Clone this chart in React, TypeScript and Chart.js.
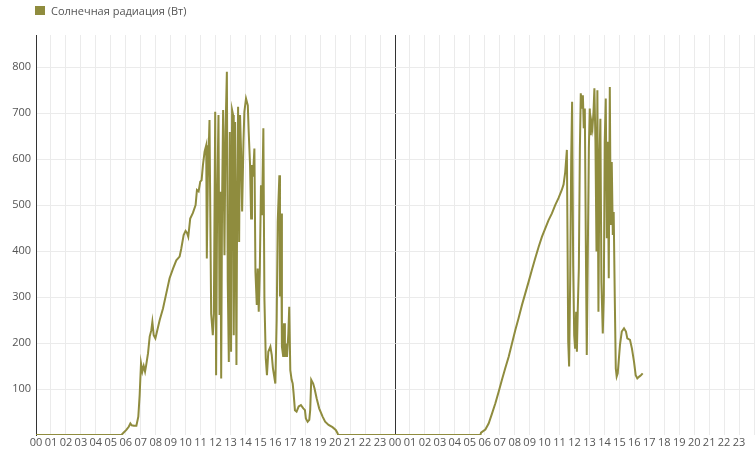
import React, { useEffect, useRef } from "react";
import { Chart, registerables } from "chart.js";

Chart.register(...registerables);

const SERIES_LABEL = "Солнечная радиация (Вт)";
const LINE_COLOR = "#8f8c3e";

// Day 1: hour of day -> watts
const day1Hours = [
  0, 5.71, 5.85, 6.04, 6.2, 6.31, 6.4, 6.55, 6.71, 6.84,
  6.93, 7.02, 7.11, 7.2, 7.29, 7.36, 7.49, 7.6, 7.71, 7.78,
  7.87, 7.98, 8.09, 8.27, 8.49, 8.71, 8.93, 9.16, 9.38, 9.6,
  9.71, 9.87, 10.0, 10.09, 10.18, 10.31, 10.49, 10.67, 10.76, 10.87,
  10.98, 11.07, 11.16, 11.27, 11.38, 11.42, 11.49, 11.6, 11.67, 11.71,
  11.82, 11.89, 11.98, 12.04, 12.11, 12.2, 12.27, 12.33, 12.38, 12.44,
  12.51, 12.6, 12.67, 12.76, 12.82, 12.89, 12.96, 13.04, 13.11, 13.18,
  13.22, 13.31, 13.4, 13.44, 13.51, 13.58, 13.64, 13.71, 13.78, 13.87,
  13.93, 14.04, 14.16, 14.22, 14.31, 14.38, 14.44, 14.51, 14.6, 14.67,
  14.76, 14.82, 14.89, 14.96, 15.04, 15.11, 15.2, 15.27, 15.36, 15.44,
  15.53, 15.67, 15.76, 15.84, 15.96, 16.0, 16.09, 16.16, 16.27, 16.31,
  16.38, 16.44, 16.53, 16.58, 16.64, 16.71, 16.78, 16.87, 16.93, 17.0,
  17.09, 17.16, 17.22, 17.31, 17.42, 17.56, 17.71, 17.87, 17.98, 18.04,
  18.16, 18.27, 18.33, 18.4, 18.53, 18.62, 18.76, 18.93, 19.16, 19.33,
  19.56, 19.82, 20.04, 20.16, 20.2, 24,
];
const day1Values = [
  0, 0, 5, 11, 18, 25, 21, 20, 20, 40,
  87, 156, 138, 150, 138, 151, 178, 214, 228, 246,
  217, 210, 225, 250, 275, 308, 341, 362, 380, 388,
  405, 435, 444, 440, 431, 471, 483, 500, 533, 530,
  551, 554, 587, 616, 630, 384, 558, 685, 409, 264,
  217, 264, 703, 130, 500, 696, 261, 529, 123, 507,
  707, 391, 659, 790, 333, 159, 659, 181, 707, 696,
  217, 681, 152, 449, 714, 420, 696, 616, 486, 638,
  703, 732, 717, 659, 587, 471, 587, 562, 623, 355,
  283, 362, 268, 355, 543, 478, 667, 297, 167, 130,
  181, 192, 174, 145, 120, 112, 250, 464, 565, 301,
  482, 192, 170, 243, 170, 199, 170, 221, 279, 141,
  120, 112, 91, 54, 51, 62, 65, 58, 54, 36,
  29, 33, 54, 120, 112, 101, 80, 58, 40, 29,
  22, 17, 11, 4, 0, 0,
];

// Day 2: hour of day -> watts
const day2Hours = [
  0, 5.71, 5.75, 6.04, 6.26, 6.49, 6.71, 6.93, 7.15, 7.37,
  7.6, 7.82, 8.04, 8.26, 8.49, 8.71, 8.93, 9.15, 9.37, 9.6,
  9.82, 10.04, 10.26, 10.49, 10.71, 10.93, 11.15, 11.27, 11.38, 11.49,
  11.53, 11.58, 11.64, 11.71, 11.78, 11.84, 11.91, 11.98, 12.04, 12.11,
  12.16, 12.22, 12.29, 12.36, 12.42, 12.49, 12.56, 12.62, 12.69, 12.76,
  12.82, 12.89, 12.96, 13.02, 13.09, 13.13, 13.2, 13.27, 13.33, 13.4,
  13.47, 13.53, 13.6, 13.67, 13.73, 13.8, 13.89, 13.96, 14.02, 14.09,
  14.16, 14.22, 14.29, 14.36, 14.42, 14.49, 14.56, 14.62, 14.69, 14.76,
  14.82, 14.89, 14.96, 15.04, 15.16, 15.31, 15.44, 15.53, 15.71, 15.84,
  15.98, 16.09, 16.2, 16.33, 16.44, 16.56,
];
const day2Values = [
  0, 0, 5, 12, 25, 47, 69, 94, 120, 145,
  170, 199, 228, 254, 283, 308, 333, 359, 384, 409,
  431, 449, 467, 482, 500, 515, 533, 545, 572, 620,
  442, 203, 149, 333, 601, 725, 370, 217, 188, 268,
  181, 275, 362, 623, 743, 710, 739, 667, 710, 406,
  174, 399, 623, 710, 652, 681, 667, 703, 754, 638,
  399, 750, 268, 601, 688, 333, 221, 304, 638, 732,
  428, 638, 341, 757, 457, 594, 435, 485, 304, 145,
  127, 134, 163, 196, 225, 232, 225, 210, 207, 188,
  159, 130, 123, 127, 130, 134,
];

const HOURS_PER_DAY = 24;
const X_MAX = 48;
const Y_MAX = 870;
const Y_STEP = 100;

const FONT = { family: "'Open Sans', sans-serif", size: 11 };
const TEXT_COLOR = "#555";
const GRID_COLOR = "#ebebeb";
const AXIS_COLOR = "#333";

export default function App() {
  const canvasRef = useRef<HTMLCanvasElement>(null);

  useEffect(() => {
    if (!canvasRef.current) return;
    const points = [
      ...day1Hours.map((h, i) => ({ x: h, y: day1Values[i] })),
      ...day2Hours.map((h, i) => ({ x: h + HOURS_PER_DAY, y: day2Values[i] })),
    ];
    const chart = new Chart(canvasRef.current, {
      type: "line",
      data: {
        datasets: [
          {
            label: SERIES_LABEL,
            data: points,
            borderColor: LINE_COLOR,
            backgroundColor: LINE_COLOR,
            borderWidth: 2,
            pointRadius: 0,
            tension: 0,
            fill: false,
          },
        ],
      },
      options: {
        animation: false,
        responsive: true,
        maintainAspectRatio: false,
        layout: { padding: { top: 35, left: 0, right: 0, bottom: 0 } },
        plugins: { legend: { display: false }, tooltip: { enabled: false } },
        scales: {
          x: {
            type: "linear",
            min: 0,
            max: X_MAX,
            afterFit: (s: any) => {
              s.height = 16;
            },
            border: { display: false },
            grid: {
              color: (c: any) =>
                c.tick && c.tick.value === HOURS_PER_DAY ? AXIS_COLOR : GRID_COLOR,
              drawTicks: false,
            },
            ticks: {
              stepSize: 1,
              maxTicksLimit: 60,
              autoSkip: false,
              maxRotation: 0,
              minRotation: 0,
              padding: 1,
              color: TEXT_COLOR,
              font: FONT,
              callback: (v: any) =>
                v >= X_MAX ? "" : String(v % HOURS_PER_DAY).padStart(2, "0"),
            },
          },
          y: {
            min: 0,
            max: Y_MAX,
            afterFit: (s: any) => {
              s.width = 36;
            },
            border: { display: true, color: AXIS_COLOR, width: 1 },
            grid: {
              color: (c: any) =>
                c.tick && c.tick.value === 0 ? "rgba(0,0,0,0)" : GRID_COLOR,
              drawTicks: false,
            },
            ticks: {
              stepSize: Y_STEP,
              includeBounds: false,
              padding: 5,
              color: TEXT_COLOR,
              font: FONT,
              callback: (v: any) => (v === 0 ? "" : String(v)),
            },
          },
        },
      },
    });
    return () => chart.destroy();
  }, []);

  return (
    <div style={{ position: "absolute", left: 0, top: 0, width: 755, height: 451 }}>
      <div
        style={{
          position: "absolute",
          left: 35,
          top: 3,
          display: "flex",
          alignItems: "center",
          fontFamily: "'Open Sans', sans-serif",
          fontSize: 11,
          lineHeight: "15px",
          color: TEXT_COLOR,
          whiteSpace: "nowrap",
          zIndex: 1,
        }}
      >
        <span
          style={{
            display: "inline-block",
            width: 10,
            height: 9,
            background: LINE_COLOR,
            marginRight: 6,
          }}
        />
        <span>{SERIES_LABEL}</span>
      </div>
      <div style={{ position: "relative", width: 755, height: 451 }}>
        <canvas ref={canvasRef} />
      </div>
    </div>
  );
}
